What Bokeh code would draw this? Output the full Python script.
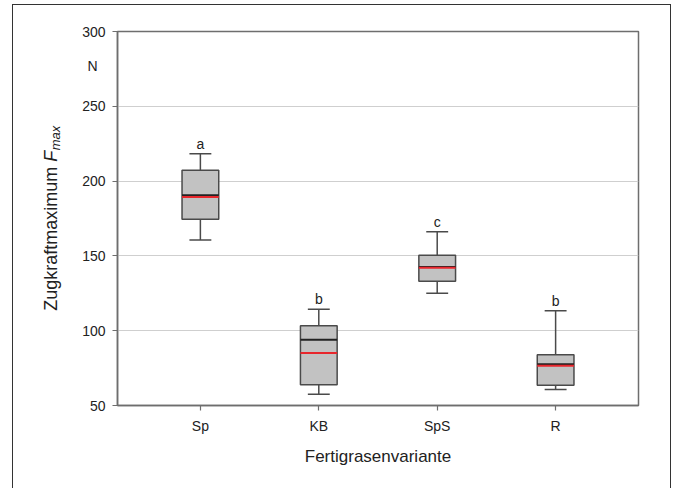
from bokeh.plotting import figure
from bokeh.models import FactorRange, Range1d, FixedTicker, Label
from bokeh.transform import dodge
from bokeh.core.properties import value
from bokeh.embed import file_html
from bokeh.resources import INLINE

# ---- data ----
categories = ["Sp", "KB", "SpS", "R"]
whisker_low = [160.7, 57.6, 125.1, 60.7]
q1 = [174.5, 63.8, 133.1, 63.5]
median = [190.5, 94.0, 142.6, 77.6]
mean = [189.4, 85.1, 142.1, 76.6]
q3 = [207.3, 103.3, 150.4, 84.0]
whisker_high = [218.2, 114.4, 166.2, 113.3]
letters = ["a", "b", "c", "b"]
y_ticks = [50, 100, 150, 200, 250, 300]

FONT = "Liberation Sans"
TICK_PX = 14
TITLE_PX = 17
YTITLE_PX = 18
SUB_PX = 13
PAD = 0.1

p = figure(x_range=FactorRange(factors=categories, range_padding=PAD),
           y_range=Range1d(50, 300),
           width=675, height=488, output_backend="svg", toolbar_location=None,
           min_border_left=117, min_border_right=37, min_border_top=31,
           min_border_bottom=83)

p.background_fill_color = "white"
p.border_fill_color = None
p.outline_line_color = "#6e6e6e"
p.outline_line_width = 1.5

# thin outer frame around the whole graphic (drawn behind the transparent canvas)
p.styles = {
    "background": ("linear-gradient(#333,#333) 12px 4px / 1px 100% no-repeat, "
                   "linear-gradient(#333,#333) 670px 4px / 1px 100% no-repeat, "
                   "linear-gradient(#333,#333) 12px 4px / 659px 1px no-repeat, "
                   "white"),
}

p.xgrid.grid_line_color = None
p.ygrid.grid_line_color = "#cfcfcf"
p.ygrid.grid_line_width = 1

p.yaxis.ticker = FixedTicker(ticks=y_ticks)
for ax in (p.xaxis[0], p.yaxis[0]):
    ax.axis_line_color = "#6e6e6e"
    ax.axis_line_width = 1.5
    ax.major_tick_line_color = "#6e6e6e"
    ax.major_tick_line_width = 1.2
    ax.major_tick_out = 5
    ax.major_tick_in = 0
    ax.minor_tick_line_color = None
    ax.major_label_text_font = FONT
    ax.major_label_text_font_size = f"{TICK_PX}px"
    ax.major_label_text_color = "#222222"
    ax.major_label_standoff = 7

p.xaxis.axis_label = "Fertigrasenvariante"
p.xaxis.axis_label_text_font = FONT
p.xaxis.axis_label_text_font_style = "normal"
p.xaxis.axis_label_text_font_size = f"{TITLE_PX}px"
p.xaxis.axis_label_text_color = "#222222"
p.xaxis.axis_label_standoff = 10

# ---- boxes ----
BOX_W = 0.31
CAP_W = 0.185
p.segment(x0=categories, y0=q3, x1=categories, y1=whisker_high,
          line_color="#4a4a4a", line_width=1.5)
p.segment(x0=categories, y0=q1, x1=categories, y1=whisker_low,
          line_color="#4a4a4a", line_width=1.5)
p.segment(x0=dodge("x", -CAP_W / 2, range=p.x_range), y0="y",
          x1=dodge("x", CAP_W / 2, range=p.x_range), y1="y",
          source=dict(x=categories + categories, y=whisker_high + whisker_low),
          line_color="#4a4a4a", line_width=1.5)
p.vbar(x=categories, top=q3, bottom=q1, width=BOX_W,
       fill_color="#c2c2c2", line_color="#4a4a4a", line_width=1.5)
p.segment(x0=dodge("x", -BOX_W / 2, range=p.x_range), y0="y",
          x1=dodge("x", BOX_W / 2, range=p.x_range), y1="y",
          source=dict(x=categories, y=median),
          line_color="#222222", line_width=2)
p.segment(x0=dodge("x", -BOX_W / 2, range=p.x_range), y0="y",
          x1=dodge("x", BOX_W / 2, range=p.x_range), y1="y",
          source=dict(x=categories, y=mean),
          line_color="#e8262c", line_width=2)

p.text(x=categories, y=whisker_high, text=letters, text_align="center",
       text_baseline="bottom", y_offset=-2, text_font=value(FONT),
       text_font_size=f"{TICK_PX}px", text_color="#222222")

# ---- y axis title (Zugkraftmaximum F_max), built from pieces ----
W = {"Z": 611, "u": 556, "g": 556, "k": 500, "r": 333, "a": 556, "f": 278,
     "t": 278, "m": 833, "x": 500, "i": 222, " ": 278, "F": 611}
def tw(s, px):
    return sum(W[c] for c in s) / 1000 * px

part1, part2, part3 = "Zugkraftmaximum ", "F", "max"
w1, w2, w3 = tw(part1, YTITLE_PX), tw(part2, YTITLE_PX), tw(part3, SUB_PX)
total = w1 + w2 + w3
mid = (p.y_range.start + p.y_range.end) / 2
frame_left = -PAD * len(categories) / 2   # left edge of the frame in factor coords
LX = -67
common = dict(x=frame_left, x_units="data", y=mid, y_units="data",
              angle=1.5707963, text_align="left", text_baseline="middle",
              text_font=FONT, text_color="#222222")
# labels placed in the left side panel so that they are not clipped to the frame
p.add_layout(Label(text=part1, x_offset=LX, y_offset=-total / 2,
                   text_font_size=f"{YTITLE_PX}px", **common), "left")
p.add_layout(Label(text=part2, x_offset=LX, y_offset=-total / 2 + w1,
                   text_font_size=f"{YTITLE_PX}px", text_font_style="italic",
                   **common), "left")
p.add_layout(Label(text=part3, x_offset=LX + 5, y_offset=-total / 2 + w1 + w2 + 0.5,
                   text_font_size=f"{SUB_PX}px", text_font_style="italic",
                   **common), "left")

# unit label "N"
p.add_layout(Label(text="N", x=frame_left, x_offset=-25, y=277, y_units="data",
                   text_align="center", text_baseline="middle", text_font=FONT,
                   text_font_size=f"{TICK_PX}px", text_color="#222222"), "left")

open("out.html", "w").write(file_html(p, INLINE))
